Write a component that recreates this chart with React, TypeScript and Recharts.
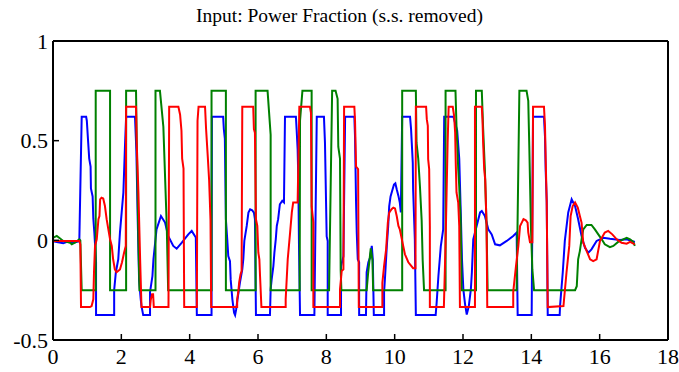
import React from 'react';
import { LineChart, Line, XAxis, YAxis } from 'recharts';

const xTicks = [0, 2, 4, 6, 8, 10, 12, 14, 16, 18];
const yTicks = [-0.5, 0, 0.5, 1];
const title = 'Input: Power Fraction (s.s. removed)';

const blueT = [0,0.15,0.3,0.45,0.6,0.77,0.84,0.97,0.99,1.03,1.06,1.1,1.11,1.16,1.18,1.21,1.26,1.26,1.79,1.79,1.84,1.91,1.96,2.01,2.06,2.11,2.14,2.4,2.44,2.48,2.52,2.57,2.59,2.64,2.84,2.84,2.91,2.94,3.03,3.16,3.28,3.37,3.52,3.62,3.77,3.96,4.06,4.18,4.21,4.64,4.65,4.98,5.0,5.03,5.06,5.1,5.13,5.18,5.2,5.25,5.3,5.33,5.36,5.4,5.47,5.54,5.57,5.6,5.67,5.72,5.77,5.83,5.88,5.91,5.94,6.35,6.37,6.4,6.45,6.48,6.52,6.55,6.59,6.64,6.71,6.76,6.79,7.11,7.13,7.16,7.18,7.2,7.23,7.65,7.72,7.93,7.96,8.01,8.04,8.04,8.43,8.43,8.5,8.55,8.82,8.84,8.87,8.89,8.92,8.96,8.96,9.16,9.18,9.23,9.28,9.33,9.36,9.39,9.69,9.69,9.72,9.77,9.81,9.84,9.88,9.94,9.98,10.02,10.06,10.11,10.15,10.18,10.22,10.45,10.48,10.5,10.53,10.54,10.59,10.62,11.2,11.23,11.28,11.35,11.42,11.45,11.72,11.83,11.89,11.94,11.97,12.01,12.06,12.11,12.17,12.23,12.26,12.3,12.4,12.5,12.55,12.64,12.74,12.84,12.94,13.08,13.28,13.47,13.57,13.6,14.01,14.05,14.37,14.4,14.42,14.45,14.48,14.83,14.84,14.92,14.98,15.08,15.18,15.28,15.37,15.47,15.57,15.67,15.76,15.91,16.11,16.3,16.59,16.79,17.03];
const blueV = [-0.005,-0.01,-0.015,-0.005,-0.012,-0.005,0.62,0.62,0.6,0.49,0.41,0.37,0.26,0.22,0.11,0.04,-0.11,-0.375,-0.375,-0.25,-0.16,-0.095,0.04,0.14,0.24,0.49,0.62,0.62,0.45,0.1,-0.2,-0.3,-0.33,-0.375,-0.375,-0.26,-0.18,-0.095,0.055,0.122,0.089,0.022,-0.028,-0.042,-0.012,0.03,0.047,0.014,-0.375,-0.375,0.62,0.62,0.558,0.51,0.106,0.005,-0.079,-0.104,-0.196,-0.296,-0.363,-0.375,-0.347,-0.296,-0.213,-0.146,-0.095,-0.003,0.072,0.139,0.156,0.151,0.139,0.106,-0.375,-0.375,-0.246,-0.196,-0.129,-0.062,0.005,0.072,0.106,0.181,0.198,0.19,0.62,0.62,0.558,0.457,0.306,-0.028,-0.375,-0.375,0.62,0.62,0.49,0.02,-0.003,-0.375,-0.375,-0.13,-0.08,0.62,0.62,0.52,0.19,0.04,-0.095,-0.11,-0.375,-0.375,-0.16,-0.11,-0.087,-0.028,-0.095,-0.375,-0.375,-0.26,-0.18,-0.03,0.07,0.17,0.22,0.256,0.28,0.286,0.256,0.223,0.19,0.14,0.62,0.62,0.558,0.49,0.39,0.256,0.005,-0.375,-0.375,-0.31,-0.18,-0.03,0.055,0.62,0.62,0.55,0.41,0.106,-0.095,-0.246,-0.32,-0.372,-0.33,-0.246,-0.16,0.005,0.072,0.14,0.147,0.122,0.055,0.03,-0.02,-0.025,-0.003,0.022,0.039,-0.375,-0.375,0.62,0.62,0.52,0.35,0.2,-0.375,-0.375,-0.33,-0.16,-0.003,0.14,0.206,0.172,0.106,0.022,-0.037,-0.062,-0.045,-0.003,0.013,0.008,0.002,0.005,-0.008];

const greenT = [0,0.11,0.18,0.3,0.5,0.55,0.64,0.77,0.8,0.84,1.25,1.25,1.67,1.67,2.14,2.14,2.43,2.45,2.5,2.53,3.0,3.0,3.13,3.23,3.33,3.37,4.64,4.64,5.06,5.06,5.93,5.93,6.28,6.37,6.37,7.22,7.23,7.3,7.57,7.57,8.08,8.17,8.27,8.33,8.35,8.4,8.42,8.44,9.18,9.22,9.3,9.35,9.37,10.22,10.22,10.62,10.64,10.69,10.74,10.79,10.82,10.86,11.49,11.49,11.78,11.81,11.86,11.89,11.93,11.95,11.96,12.38,12.38,12.55,12.59,12.64,12.69,12.72,13.57,13.65,13.86,13.91,13.94,13.96,13.99,14.03,14.08,15.28,15.33,15.37,15.42,15.47,15.52,15.62,15.76,15.86,15.96,16.06,16.15,16.3,16.4,16.54,16.69,16.79,16.89,16.98,17.03];
const greenV = [0.013,0.022,0.013,-0.003,-0.012,-0.02,-0.012,0.005,0.0,-0.25,-0.25,0.75,0.75,-0.25,-0.25,0.75,0.75,0.5,0.0,-0.25,-0.25,0.75,0.75,0.57,0.07,-0.25,-0.25,0.75,0.75,-0.25,-0.25,0.75,0.75,0.53,-0.25,-0.25,0.6,0.75,0.75,-0.25,-0.25,0.75,0.75,0.71,0.47,0.41,-0.15,-0.25,-0.25,-0.17,-0.04,-0.1,-0.25,-0.25,0.75,0.75,0.49,0.41,0.27,0.1,-0.1,-0.25,-0.25,0.75,0.75,0.57,0.36,0.27,0.105,-0.095,-0.25,-0.25,0.75,0.75,0.558,0.357,0.07,-0.25,-0.25,0.75,0.75,0.7,0.474,0.306,0.055,-0.146,-0.25,-0.25,-0.23,-0.095,-0.054,0.005,0.055,0.077,0.077,0.055,0.03,0.005,-0.02,-0.034,-0.028,-0.008,0.005,0.013,0.005,-0.008,-0.028];

const redT = [0,0.77,0.8,0.82,1.08,1.13,1.18,1.2,1.23,1.28,1.33,1.36,1.38,1.42,1.47,1.52,1.57,1.62,1.67,1.72,1.76,1.81,1.86,1.96,2.02,2.08,2.13,2.14,2.43,2.45,2.5,2.55,2.59,2.84,2.86,2.9,2.93,2.95,3.38,3.4,3.67,3.72,3.76,3.78,3.82,3.84,4.21,4.23,4.26,4.45,4.48,4.53,4.57,4.61,4.63,5.39,5.39,5.42,5.45,5.49,5.52,5.54,5.86,5.88,5.91,5.94,5.98,6.01,6.04,6.06,6.1,6.81,6.81,6.87,6.94,6.99,7.03,7.16,7.21,7.52,7.55,7.57,7.62,7.62,8.4,8.4,8.45,8.5,8.52,8.82,8.84,8.87,8.93,8.95,9.64,9.64,9.69,9.75,9.8,9.84,9.91,9.96,10.01,10.06,10.11,10.15,10.25,10.3,10.4,10.54,10.61,10.62,10.92,10.94,10.97,10.98,11.01,11.03,11.03,11.44,11.49,11.52,11.55,11.58,11.7,11.74,11.77,11.79,11.81,11.86,11.89,11.91,12.35,12.35,12.55,12.57,12.59,12.62,12.65,12.69,12.71,13.47,13.47,13.55,13.62,13.67,13.72,13.77,13.84,13.89,13.91,13.96,14.03,14.05,14.37,14.4,14.42,14.45,14.48,14.94,15.03,15.11,15.15,15.21,15.28,15.36,15.42,15.47,15.52,15.62,15.72,15.81,15.91,16.01,16.15,16.25,16.37,16.5,16.64,16.79,16.89,17.03];
const redV = [-0.003,-0.003,-0.02,-0.335,-0.335,-0.33,-0.296,-0.16,-0.028,0.005,0.106,0.122,0.206,0.214,0.21,0.172,0.106,0.055,0.005,-0.028,-0.095,-0.146,-0.16,-0.146,-0.11,-0.062,-0.028,0.67,0.67,0.49,0.24,-0.095,-0.335,-0.335,-0.3,-0.27,-0.27,-0.335,-0.335,0.67,0.67,0.63,0.55,0.41,0.36,-0.335,-0.335,0.6,0.67,0.67,0.56,0.42,0.3,0.1,-0.335,-0.335,-0.296,-0.263,-0.21,-0.17,-0.154,0.67,0.67,0.558,0.54,0.106,0.072,-0.062,-0.095,-0.18,-0.335,-0.335,-0.296,-0.095,0.04,0.14,0.19,0.19,0.67,0.67,0.64,0.17,0.09,-0.335,-0.335,-0.246,-0.154,-0.146,0.67,0.67,0.6,0.37,0.357,-0.335,-0.335,-0.213,-0.129,-0.045,0.089,0.139,0.156,0.164,0.16,0.122,0.072,0.055,-0.028,-0.07,-0.11,-0.14,-0.14,0.67,0.67,0.608,0.574,0.407,0.357,0.072,-0.335,-0.335,-0.012,0.24,0.49,0.67,0.67,0.625,0.54,0.373,0.24,0.19,0.072,-0.335,-0.335,0.67,0.67,0.608,0.49,0.357,0.306,0.072,-0.335,-0.335,-0.26,-0.13,-0.028,0.072,0.089,0.106,0.1,0.089,0.04,-0.01,-0.01,0.67,0.67,0.574,0.407,0.19,-0.335,-0.33,-0.16,-0.028,0.122,0.172,0.19,0.164,0.122,0.089,-0.012,-0.054,-0.095,-0.104,-0.095,-0.003,0.039,0.047,0.03,0.005,-0.012,-0.017,-0.008,-0.02];

const toData = (ts: number[], vs: number[]) => ts.map((t, i) => ({ t, v: vs[i] }));
const blueData = toData(blueT, blueV);
const greenData = toData(greenT, greenV);
const redData = toData(redT, redV);

const SERIF = 'Liberation Serif';

const XTick = (props: any) => {
  const { x, y, payload } = props;
  return (
    <text x={x} y={y + 12} textAnchor="middle" fontFamily={SERIF} fontSize={22} fill="#000"
      style={{ fontFamily: SERIF }}>{String(payload.value)}</text>
  );
};

const YTick = (props: any) => {
  const { x, y, payload } = props;
  return (
    <text x={x} y={y + 7.5} textAnchor="end" fontFamily={SERIF} fontSize={22} fill="#000"
      style={{ fontFamily: SERIF }}>{String(payload.value)}</text>
  );
};

export default function App() {
  return (
    <div style={{ position: 'absolute', left: 0, top: 0, width: 679, height: 372, background: '#fff' }}>
      <div style={{ position: 'absolute', left: 0, top: 5, width: 679, textAlign: 'center', fontFamily: SERIF, fontSize: 19.5, color: '#000' }}>
        {title}
      </div>
      <LineChart width={679} height={372} margin={{ top: 40, right: 10, bottom: 2, left: 8 }}>
        <XAxis dataKey="t" type="number" domain={[0, 18]} ticks={xTicks} allowDataOverflow
          axisLine={{ stroke: '#000', strokeWidth: 2 }} tickLine={{ stroke: '#000', strokeWidth: 1.5 }}
          tickSize={-6} tickMargin={18} height={30} tick={<XTick />} />
        <XAxis xAxisId="top" orientation="top" type="number" domain={[0, 18]} ticks={xTicks} height={1}
          axisLine={{ stroke: '#000', strokeWidth: 2 }} tickLine={{ stroke: '#000', strokeWidth: 1.5 }}
          tickSize={-6} tick={false} />
        <YAxis type="number" domain={[-0.5, 1]} ticks={yTicks} allowDataOverflow width={45}
          axisLine={{ stroke: '#000', strokeWidth: 2 }} tickLine={{ stroke: '#000', strokeWidth: 1.5 }}
          tickSize={-6} tickMargin={11} tick={<YTick />} />
        <YAxis yAxisId="r" orientation="right" type="number" domain={[-0.5, 1]} ticks={yTicks} width={1}
          axisLine={{ stroke: '#000', strokeWidth: 2 }} tickLine={{ stroke: '#000', strokeWidth: 1.5 }}
          tickSize={-6} tick={false} />
        <Line data={blueData} dataKey="v" type="linear" stroke="#0000ff" strokeWidth={2} dot={false} isAnimationActive={false} />
        <Line data={greenData} dataKey="v" type="linear" stroke="#008000" strokeWidth={2} dot={false} isAnimationActive={false} />
        <Line data={redData} dataKey="v" type="linear" stroke="#ff0000" strokeWidth={2} dot={false} isAnimationActive={false} />
      </LineChart>
    </div>
  );
}
